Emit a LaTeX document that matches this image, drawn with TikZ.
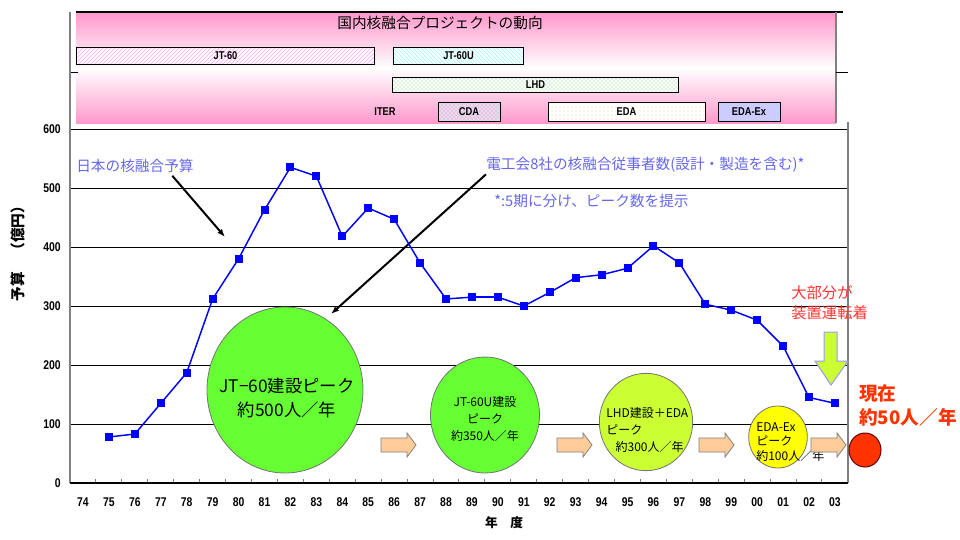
\documentclass[tikz,border=0pt]{standalone}
\usepackage{fontspec}
\setmainfont{Noto Sans CJK JP}
\newfontfamily\numfont[FakeStretch=0.82]{Liberation Sans}
\usetikzlibrary{arrows.meta}
\usetikzlibrary{shapes.geometric}
\usetikzlibrary{patterns}

\definecolor{budgetblue}{HTML}{0000FF}
\definecolor{notetext}{HTML}{6666EE}
\definecolor{peakgreen}{HTML}{66FF33}
\definecolor{lhdgreen}{HTML}{CCFF33}
\definecolor{exyellow}{HTML}{FFFF00}
\definecolor{nowred}{HTML}{FF3300}
\definecolor{remarkred}{HTML}{FF3333}
\definecolor{bannerpink}{HTML}{FF99CC}
\definecolor{arroworange}{HTML}{FFCC99}
\definecolor{arrowedge}{HTML}{9999FF}

\pgfdeclareverticalshading{bannershade}{100bp}{
  color(0bp)=(bannerpink); color(25bp)=(bannerpink); color(50bp)=(white);
  color(75bp)=(bannerpink); color(100bp)=(bannerpink)}

\tikzset{
  budget/.style={budgetblue, line width=1.1pt},
  datapt/.style={fill=budgetblue, minimum size=6pt, inner sep=0pt},
  grid line/.style={black, line width=0.75pt},
  bar/.style={draw=black, line width=0.75pt, inner sep=0pt, preaction={fill=white},
    font=\numfont\bfseries\fontsize{8.5}{9}\selectfont},
  numlbl/.style={font=\numfont\bfseries\fontsize{9.5}{10}\selectfont},
  note/.style={notetext, anchor=west, inner sep=0pt, font=\fontsize{11}{12}\selectfont},
  pointer/.style={-{Latex[length=6pt,width=4.5pt]}, line width=1.5pt, black},
  peak/.style={ellipse, draw=black!55, line width=0.6pt, inner sep=0pt},
  peaktxt/.style={align=center, inner sep=0pt},
  fatarrow/.style={fill=arroworange, draw=gray, line width=0.6pt}
}

\begin{document}
\begin{tikzpicture}[x=0.75pt,y=-0.75pt]
  \useasboundingbox (0,0) rectangle (960,539);

  \shade[shading=bannershade] (76,13) rectangle (836,123);
  \draw[black, line width=1.5pt] (76,12) -- (843,12);
  \draw[gray, line width=1.5pt] (836,12) -- (836,123);
  \draw[black, line width=0.75pt] (70,72) -- (78,72);
  \draw[black, line width=0.75pt] (836,72) -- (848,72);
  \node[font=\fontsize{11}{12}\selectfont] (title) at (440,23) {国内核融合プロジェクトの動向};

  \node[bar, pattern=north east lines, pattern color=magenta!35, minimum width=224pt, minimum height=12.75pt] (jt60bar) at (225.5,55.5) {JT-60};
  \node[bar, pattern=north west lines, pattern color=cyan!40, minimum width=98pt, minimum height=12.75pt] (jt60ubar) at (458.5,55.5) {JT-60U};
  \node[bar, pattern=crosshatch dots, pattern color=green!70!black!60, minimum width=214pt, minimum height=11.25pt] (lhdbar) at (535.5,84.5) {LHD};
  \node[font=\numfont\bfseries\fontsize{8.5}{9}\selectfont] (iter) at (385,112) {ITER};
  \node[bar, preaction={fill=violet!15}, pattern=crosshatch dots, pattern color=violet!45, minimum width=46.5pt, minimum height=14.25pt] (cdabar) at (469,111.5) {CDA};
  \node[bar, pattern=dots, pattern color=arroworange, minimum width=117.75pt, minimum height=14.25pt] (edabar) at (626.5,111.5) {EDA};
  \node[bar, preaction={fill=blue!20}, minimum width=46.5pt, minimum height=14.25pt] (edaexbar) at (749,111.5) {EDA-Ex};

  \foreach \v in {100,200,...,600} {
    \draw[grid line] (70,{483-0.59*\v}) -- (848,{483-0.59*\v});
  }
  \foreach \v in {0,100,...,600} {
    \node[numlbl, anchor=east, inner sep=0pt] (tick\v) at (61,{483-0.59*\v}) {\v};
  }
  \foreach \k in {1,...,29} {
    \draw[gray, line width=0.75pt] ({70+25.93*\k},479) -- ({70+25.93*\k},483);
  }
  \draw[gray, line width=1.5pt] (70,12) -- (70,483);
  \draw[gray, line width=1.5pt] (848,122) -- (848,483);
  \draw[black, line width=1.5pt] (70,483) -- (848,483);

  \foreach \yr [count=\i from 0] in {74,75,...,99,00,01,02,03} {
    \node[numlbl] (yr\i) at ({83+25.93*\i},502) {\yr};
  }
  \node[font=\bfseries\fontsize{9.5}{10}\selectfont] (xlabel) at (504,523) {年　度};
  \node[rotate=90, font=\bfseries\fontsize{11}{12}\selectfont] (ylabel) at (18,250) {予算　（億円）};

  \node[peak, fill=peakgreen, minimum width=117pt, minimum height=124.5pt] (jt60) at (285,390) {};
  \node[peak, fill=peakgreen, minimum width=81.75pt, minimum height=87pt] (jt60u) at (485,415) {};
  \node[peak, fill=lhdgreen, minimum width=70pt, minimum height=73pt] (lhd) at (646,422) {};
  \node[peak, fill=exyellow, minimum width=44pt, minimum height=46.5pt] (edaex) at (778,437) {};
  \node[ellipse, fill=nowred, draw=black!60!red, line width=0.75pt, minimum width=24pt, minimum height=25.5pt] (now) at (865,450) {};

  \node[peaktxt, font=\fontsize{13}{18}\selectfont] (jt60txt) at (287,398) {JT−60建設ピーク\\約500人／年};
  \node[peaktxt, font=\fontsize{9}{12.75}\selectfont] (jt60utxt) at (485,419) {JT-60U建設\\ピーク\\約350人／年};
  \node[peaktxt, align=left, anchor=west, font=\fontsize{9}{13}\selectfont] (lhdtxt) at (606,430) {LHD建設＋EDA\\ピーク\\\hspace*{7pt}約300人／年};
  \node[peaktxt, align=left, anchor=west, font=\fontsize{9}{11}\selectfont] (edaextxt) at (756,442) {EDA-Ex\\ピーク\\約100人／年};

  \foreach \x in {381,557,699,811} {
    \draw[fatarrow] (\x,438) -- ++(26,0) -- ++(0,-5) -- ++(9,12) -- ++(-9,12) -- ++(0,-5) -- ++(-26,0) -- cycle;
  }
  \draw[fill=lhdgreen, draw=arrowedge, line width=0.75pt] (824,332) -- (837,332) -- (837,361) -- (848,361) -- (831,385) -- (815,361) -- (824,361) -- cycle;

  \node[note] (budgetlbl) at (76,166) {日本の核融合予算};
  \node[note] (stafflbl) at (486,165) {電工会8社の核融合従事者数(設計・製造を含む)*};
  \node[note] (phaselbl) at (494,201) {*:5期に分け、ピーク数を提示};
  \coordinate (budgettip) at (225,237);
  \coordinate (stafftip) at (331,314);
  \draw[pointer] ([xshift=28pt,yshift=-2pt]budgetlbl.south) -- (budgettip);
  \draw[pointer] ([yshift=-7pt]stafflbl.west) -- (stafftip);

  \node[remarkred, align=left, anchor=west, inner sep=0pt, font=\fontsize{11.5}{15}\selectfont] (remark) at (791,303) {大部分が\\装置運転着};
  \node[nowred, align=left, anchor=west, inner sep=0pt, font=\bfseries\fontsize{14}{18}\selectfont] (nowtxt) at (859,405) {現在\\約50人／年};

  \foreach \i/\v in {1/78,2/83,3/135,4/187,5/312,6/380,7/463,8/535,9/520,10/418,11/466,12/447,13/373,14/312,15/315,16/315,17/300,18/323,19/348,20/353,21/364,22/402,23/373,24/303,25/293,26/276,27/232,28/145,29/135}
    \coordinate (p\i) at ({83+25.93*\i},{483-0.59*\v});
  \foreach \i [remember=\i as \last (initially 1)] in {2,...,29}
    \draw[budget] (p\last) -- (p\i);
  \foreach \i in {1,...,29}
    \node[datapt] (m\i) at (p\i) {};
\end{tikzpicture}
\end{document}
